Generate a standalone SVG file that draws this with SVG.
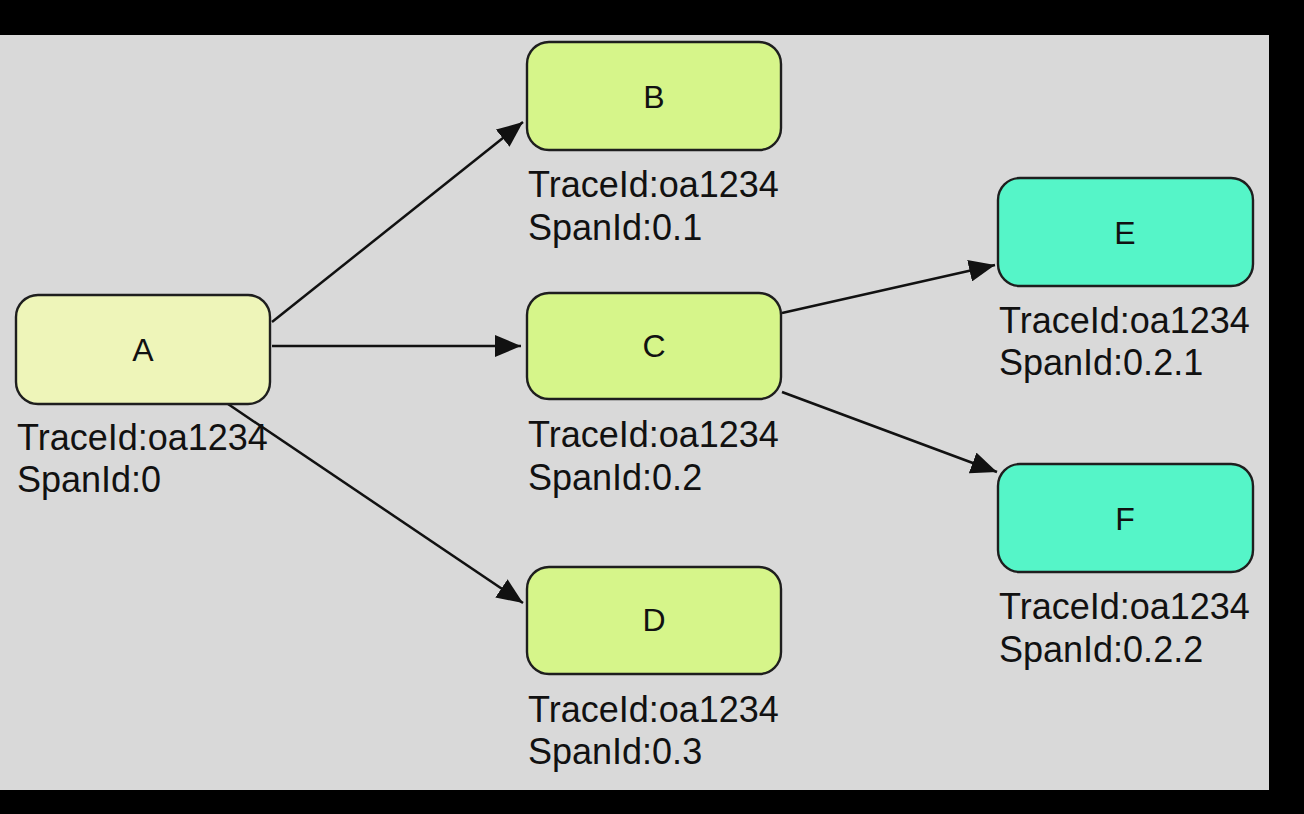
<svg xmlns="http://www.w3.org/2000/svg" width="1304" height="814" viewBox="0 0 1304 814">
<defs>
<style>
.node{stroke:#1e1e1e;stroke-width:2.4}
.ya{fill:#eef5b9}
.yg{fill:#d6f58a}
.tq{fill:#55f5c8}
.nl{font-family:"Liberation Sans",Arial,sans-serif;font-size:32px;fill:#111;text-anchor:middle}
.sl{font-family:"Liberation Sans",Arial,sans-serif;font-size:36px;fill:#111}
.edge{stroke:#111;stroke-width:2.5;fill:none;marker-end:url(#arr)}
</style>
<marker id="arr" viewBox="0 0 26 22" refX="26" refY="11" markerWidth="26" markerHeight="22" orient="auto" markerUnits="userSpaceOnUse">
<path d="M0,0 L26,11 L0,22 Z" fill="#111"/>
</marker>
</defs>
<rect x="0" y="0" width="1304" height="814" fill="#000"/>
<rect x="0" y="35" width="1269" height="755" fill="#d9d9d9"/>
<g id="connectors">
<line class="edge" x1="272" y1="322" x2="523" y2="122"/>
<line class="edge" x1="272" y1="346" x2="521" y2="346"/>
<line class="edge" x1="228" y1="404" x2="523" y2="603"/>
<line class="edge" x1="782" y1="313" x2="995" y2="265"/>
<line class="edge" x1="782" y1="392" x2="997" y2="472"/>
</g>
<g id="nodeA">
<rect class="node ya" x="16" y="295" width="254" height="109" rx="22"/>
<text class="nl" x="143" y="361">A</text>
<text class="sl" x="17" y="450">TraceId:oa1234</text>
<text class="sl" x="17" y="492">SpanId:0</text>
</g>
<g id="nodeB">
<rect class="node yg" x="527" y="42" width="254" height="108" rx="22"/>
<text class="nl" x="654" y="108">B</text>
<text class="sl" x="528" y="197">TraceId:oa1234</text>
<text class="sl" x="528" y="240">SpanId:0.1</text>
</g>
<g id="nodeC">
<rect class="node yg" x="527" y="293" width="254" height="106" rx="22"/>
<text class="nl" x="654" y="357">C</text>
<text class="sl" x="528" y="447">TraceId:oa1234</text>
<text class="sl" x="528" y="490">SpanId:0.2</text>
</g>
<g id="nodeD">
<rect class="node yg" x="527" y="567" width="254" height="107" rx="22"/>
<text class="nl" x="654" y="631">D</text>
<text class="sl" x="528" y="722">TraceId:oa1234</text>
<text class="sl" x="528" y="764">SpanId:0.3</text>
</g>
<g id="nodeE">
<rect class="node tq" x="998" y="178" width="255" height="108" rx="22"/>
<text class="nl" x="1125" y="244">E</text>
<text class="sl" x="999" y="333">TraceId:oa1234</text>
<text class="sl" x="999" y="375">SpanId:0.2.1</text>
</g>
<g id="nodeF">
<rect class="node tq" x="998" y="464" width="255" height="108" rx="22"/>
<text class="nl" x="1125" y="530">F</text>
<text class="sl" x="999" y="619">TraceId:oa1234</text>
<text class="sl" x="999" y="662">SpanId:0.2.2</text>
</g>
</svg>
